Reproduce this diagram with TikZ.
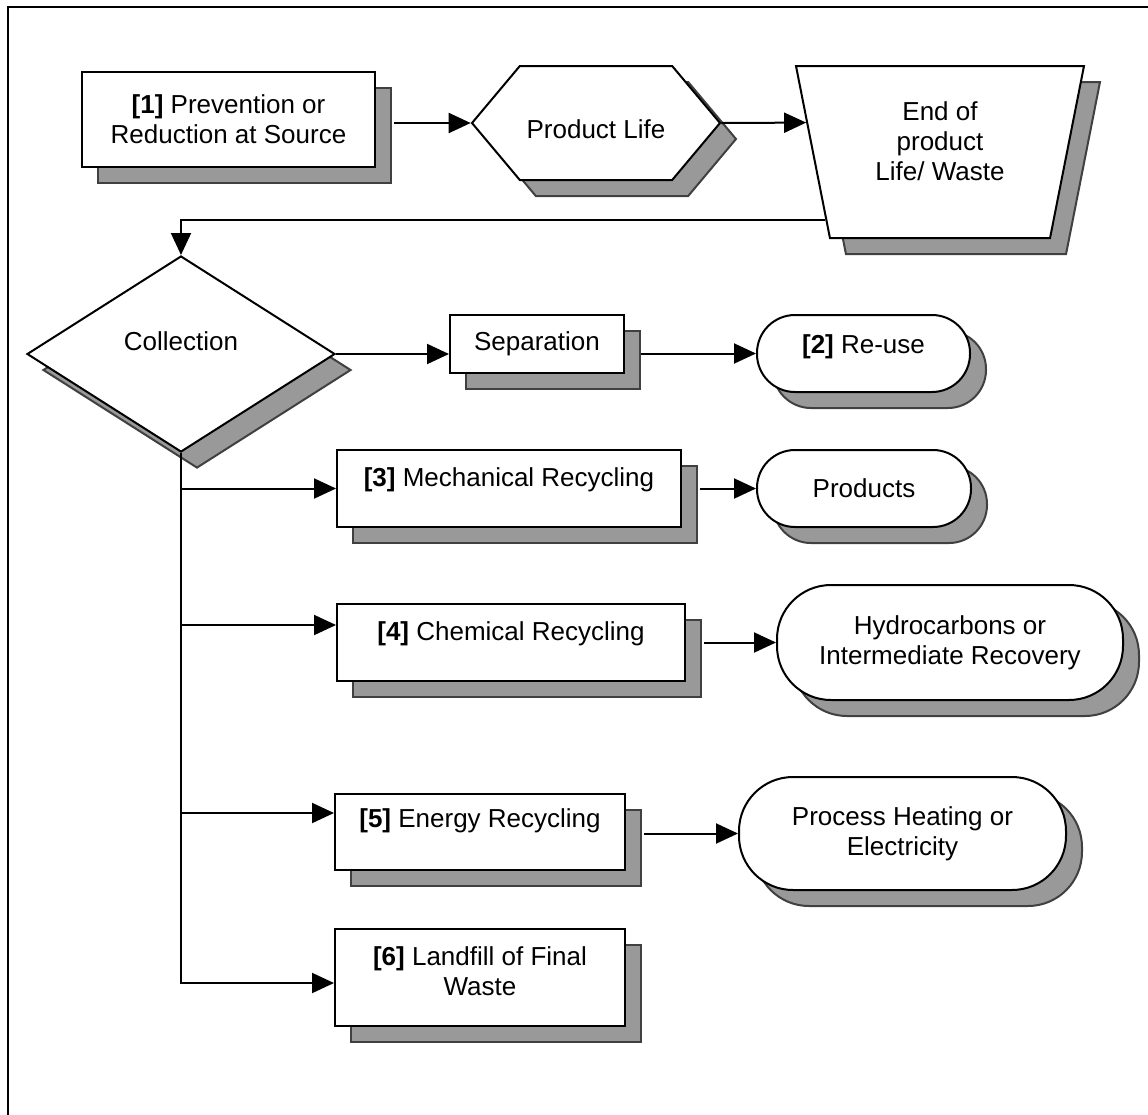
\documentclass[tikz,border=0pt]{standalone}
\usepackage{fontspec}
\setmainfont{Liberation Sans}
\usetikzlibrary{arrows.meta,shapes.geometric,shapes.symbols,shadows,calc}

\begin{document}
\begin{tikzpicture}[x=0.5pt,y=-0.5pt,line width=1pt,
    every node/.style={font=\fontsize{13}{15}\selectfont,inner sep=0pt,align=center},
    shade/.style={drop shadow={shadow xshift=8pt,shadow yshift=-8pt,opacity=1,fill=black!40,draw=black!75,line width=1pt}},
    stage/.style={draw,fill=white,shade,rectangle},
    outcome/.style={draw,fill=white,shade,rectangle,rounded corners=#1},
    arr/.style={-{Triangle[length=11pt,width=10pt]}}]
    \useasboundingbox (0,0) rectangle (1148,1115);
    \draw (8,1115) -- (8,7) -- (1148,7);
    \node[stage,minimum width=146.5pt,minimum height=47.5pt] (prev) at (228.5,119.5) {\textbf{[1]} Prevention or\\Reduction at Source};
    \node[draw,fill=white,shade,signal,signal to=east and west,signal pointer angle=100,
        minimum width=124pt,minimum height=57pt,text height=15.4pt] (life) at (596,123) {Product Life};
    \node[draw,fill=white,shade,trapezium,trapezium left angle=108.5,trapezium right angle=108.5,
        trapezium stretches body,minimum width=144pt,minimum height=86pt,text depth=11.3pt] (waste) at (940,152) {End of\\product\\Life/ Waste};
    \node[draw,fill=white,shade,diamond,minimum width=154pt,minimum height=98pt,text depth=13pt] (coll) at (181,354) {Collection};
    \node[stage,minimum width=87pt,minimum height=29pt] (sep) at (537,344) {Separation};
    \node[outcome=19pt,minimum width=106.5pt,minimum height=38.5pt,text depth=9.7pt] (reuse) at (863.5,353.5) {\textbf{[2]} Re-use};
    \node[stage,minimum width=172pt,minimum height=38.5pt,text depth=11.7pt] (mech) at (509,488.5) {\textbf{[3]} Mechanical Recycling};
    \node[outcome=19pt,minimum width=107pt,minimum height=38.5pt] (prod) at (864,488.5) {Products};
    \node[stage,minimum width=174pt,minimum height=38.5pt,text depth=11.7pt] (chem) at (511,642.5) {\textbf{[4]} Chemical Recycling};
    \node[outcome=27pt,minimum width=173pt,minimum height=57.5pt] (hydro) at (950,642.5) {Hydrocarbons or\\Intermediate Recovery};
    \node[stage,minimum width=145pt,minimum height=38pt,text depth=13.7pt] (energy) at (480,832) {\textbf{[5]} Energy Recycling};
    \node[outcome=27pt,minimum width=163.5pt,minimum height=56.5pt] (heat) at (902.5,833.5) {Process Heating or\\Electricity};
    \node[stage,minimum width=145pt,minimum height=48.5pt,text depth=6pt] (land) at (480,977.5) {\textbf{[6]} Landfill of Final\\Waste};
    \coordinate (in4) at ([yshift=8.75pt]chem.west);
    \coordinate (in5) at ([yshift=9.5pt]energy.west);
    \coordinate (in6) at ([yshift=-2.75pt]land.west);
    \draw[arr] ([xshift=9pt]prev.east |- life.west) -- (life.west);
    \draw[arr] (life.east) -- ($(waste.top left corner)!0.331!(waste.bottom left corner)$);
    \draw[arr] ($(waste.top left corner)!0.89!(waste.bottom left corner)$) -| (coll.north);
    \draw[arr] (coll.east) -- (coll.east -| sep.west);
    \draw[arr] ([xshift=8pt]sep.east |- reuse.west) -- (reuse.west);
    \draw[arr] ([xshift=9pt]mech.east) -- (prod.west);
    \draw[arr] ([xshift=9pt]chem.east) -- (hydro.west);
    \draw[arr] ([xshift=9pt]energy.east |- heat.west) -- (heat.west);
    \draw[arr] (coll.south) |- (in6);
    \draw[arr] (coll.south |- mech.west) -- (mech.west);
    \draw[arr] (coll.south |- in4) -- (in4);
    \draw[arr] (coll.south |- in5) -- (in5);
  \end{tikzpicture}
\end{document}
